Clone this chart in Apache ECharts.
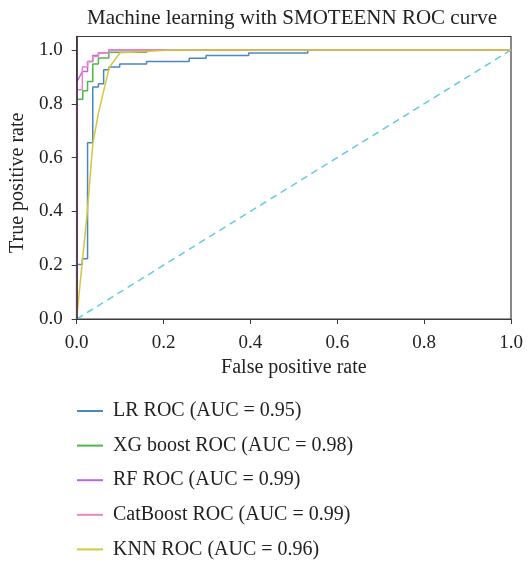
<!DOCTYPE html>
<html>
<head>
<meta charset="utf-8">
<script src="https://cdn.jsdelivr.net/npm/echarts@6/dist/echarts.min.js"></script>
<style>
  html, body { margin: 0; padding: 0; background: #fff; }
  #chart { width: 527px; height: 561px; }
</style>
</head>
<body>
<div id="chart"></div>
<script>
// ROC points (false positive rate / true positive rate)
const lrFpr = [0, 0, 0.013, 0.013, 0.025, 0.025, 0.037, 0.037, 0.05, 0.05, 0.062, 0.062, 0.074, 0.074, 0.099, 0.099, 0.161, 0.161, 0.259, 0.259, 0.298, 0.298, 0.396, 0.396, 0.532, 0.532, 1];
const lrTpr = [0, 0.203, 0.203, 0.224, 0.224, 0.655, 0.655, 0.862, 0.862, 0.874, 0.874, 0.926, 0.926, 0.937, 0.937, 0.948, 0.948, 0.957, 0.957, 0.969, 0.969, 0.979, 0.979, 0.989, 0.989, 1, 1];

const xgFpr = [0, 0, 0.014, 0.014, 0.025, 0.025, 0.037, 0.037, 0.05, 0.05, 0.074, 0.074, 0.161, 0.161, 1];
const xgTpr = [0, 0.817, 0.817, 0.848, 0.848, 0.883, 0.883, 0.948, 0.948, 0.970, 0.970, 0.991, 0.991, 1, 1];

const rfFpr = [0, 0, 0.013, 0.025, 0.025, 0.037, 0.037, 0.05, 0.05, 0.074, 0.074, 1];
const rfTpr = [0, 0.88, 0.92, 0.92, 0.957, 0.957, 0.979, 0.979, 0.99, 0.99, 1, 1];

const catFpr = [0, 0, 0.013, 0.013, 0.025, 0.025, 0.037, 0.037, 0.05, 0.05, 0.074, 0.074, 1];
const catTpr = [0, 0.852, 0.852, 0.937, 0.937, 0.957, 0.957, 0.976, 0.976, 0.989, 0.989, 1, 1];

const knnFpr = [0, 0.012, 0.024, 0.037, 0.05, 0.075, 0.1, 0.22, 1];
const knnTpr = [0, 0.2, 0.39, 0.65, 0.765, 0.935, 0.99, 1, 1];

const diagFpr = [0, 1];
const diagTpr = [0, 1];

const seriesNames = ["LR ROC (AUC = 0.95)", "XG boost ROC (AUC = 0.98)", "RF ROC (AUC = 0.99)", "CatBoost ROC (AUC = 0.99)", "KNN ROC (AUC = 0.96)"];
const xTicks = [0, 0.2, 0.4, 0.6, 0.8, 1.0];
const yTicks = [0, 0.2, 0.4, 0.6, 0.8, 1.0];

const zip = (xs, ys) => xs.map((x, i) => [x, ys[i]]);

const font = "Liberation Serif";
const axisColor = "#3a3a3a";

const curve = (name, xs, ys, color) => ({
    name: name,
    type: "line",
    data: zip(xs, ys),
    symbol: "none",
    lineStyle: { color: color, width: 1.5 },
    itemStyle: { color: color },
    animation: false,
});

const myChart = echarts.init(document.getElementById("chart"), null, { renderer: "canvas" });

const option = {
    backgroundColor: "#fff",
    title: {
        text: "Machine learning with SMOTEENN ROC curve",
        left: 287,
        textAlign: "center",
        top: 3,
        textStyle: { fontFamily: font, fontWeight: "normal", fontSize: 21, color: "#222" },
    },
    grid: {
        left: 76.7,
        right: 16,
        top: 36.5,
        bottom: 242,
        show: true,
        borderColor: axisColor,
        borderWidth: 1.2,
        backgroundColor: "transparent",
    },
    legend: {
        data: seriesNames,
        orient: "vertical",
        left: 77,
        top: 401,
        padding: 0,
        icon: "rect",
        itemWidth: 26,
        itemHeight: 2,
        itemGap: 14.6,
        textStyle: {
            fontFamily: font,
            fontSize: 20,
            color: "#222",
            lineHeight: 20,
            padding: [0, 0, 0, 5],
        },
    },
    xAxis: {
        type: "value",
        min: 0,
        max: 1,
        interval: 0.2,
        z: 5,
        name: "False positive rate",
        nameLocation: "middle",
        nameGap: 33,
        nameTextStyle: { fontFamily: font, fontSize: 20, color: "#222" },
        axisLine: { show: true, lineStyle: { color: axisColor, width: 1.2 } },
        axisTick: { show: true, length: 5, lineStyle: { color: axisColor }, customValues: xTicks },
        axisLabel: {
            margin: 15,
            fontFamily: font,
            fontSize: 19,
            color: "#222",
            customValues: xTicks,
            formatter: (v) => v.toFixed(1),
        },
        splitLine: { show: false },
    },
    yAxis: {
        type: "value",
        min: 0,
        max: 1.05,
        z: 5,
        name: "True positive rate",
        nameLocation: "middle",
        nameGap: 48,
        nameTextStyle: { fontFamily: font, fontSize: 20, color: "#222", padding: [0, 10, 0, 0] },
        axisLine: { show: true, lineStyle: { color: "#3d2d3d", width: 1.6 } },
        axisTick: { show: true, length: 5, lineStyle: { color: axisColor }, customValues: yTicks },
        axisLabel: {
            margin: 14,
            fontFamily: font,
            fontSize: 19,
            color: "#222",
            customValues: yTicks,
            formatter: (v) => v.toFixed(1),
        },
        splitLine: { show: false },
    },
    series: [
        curve(seriesNames[0], lrFpr, lrTpr, "#4a87c3"),
        curve(seriesNames[1], xgFpr, xgTpr, "#4cb84c"),
        curve(seriesNames[2], rfFpr, rfTpr, "#b866e0"),
        curve(seriesNames[3], catFpr, catTpr, "#e884c8"),
        curve(seriesNames[4], knnFpr, knnTpr, "#d4c83a"),
        {
            name: "diagonal",
            type: "line",
            data: zip(diagFpr, diagTpr),
            symbol: "none",
            lineStyle: { color: "#5fcde0", width: 1.5, type: [7, 5] },
            animation: false,
            z: 1,
        },
    ],
};

option && myChart.setOption(option);
</script>
</body>
</html>
